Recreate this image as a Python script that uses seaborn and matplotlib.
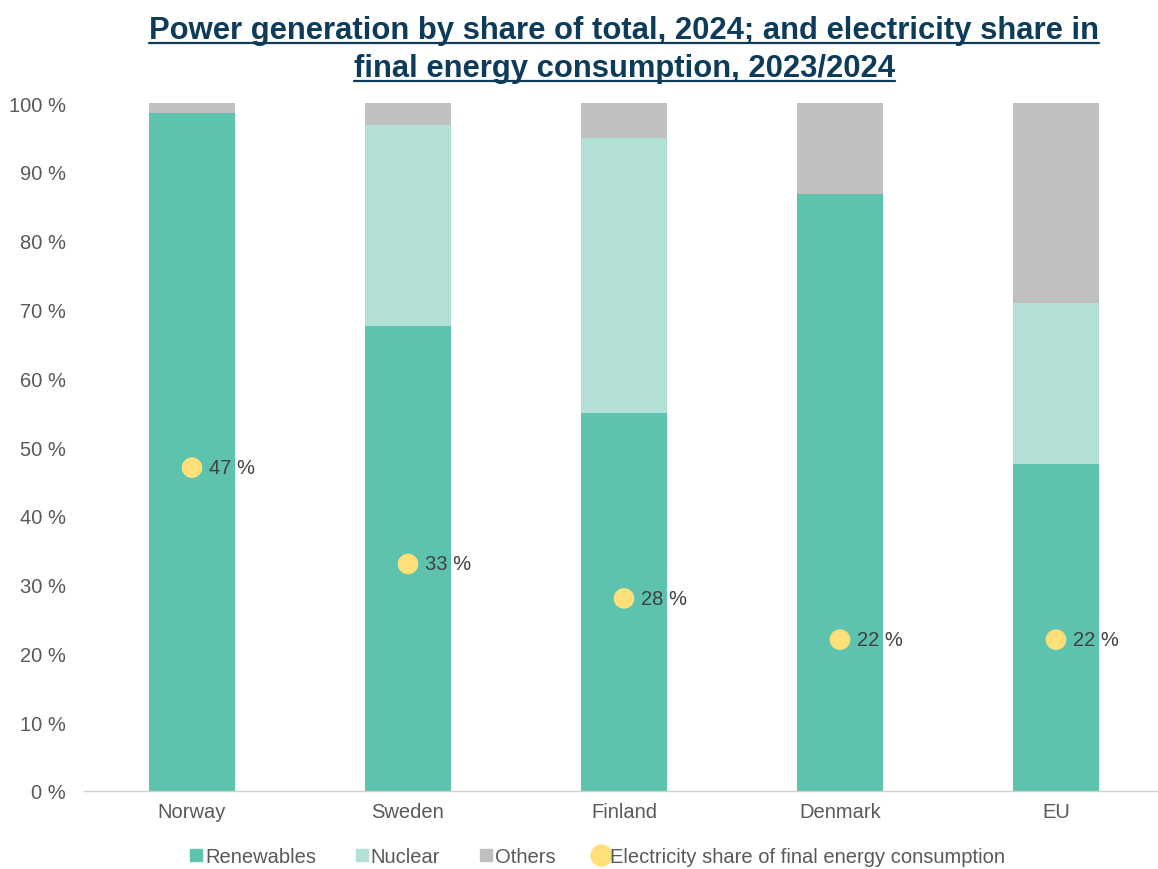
import matplotlib
matplotlib.use("Agg")
import matplotlib.pyplot as plt
from matplotlib.lines import Line2D
import seaborn as sns
import numpy as np
import pandas as pd

countries = ["Norway", "Sweden", "Finland", "Denmark", "EU"]
renewables = [98.5, 67.6, 54.9, 86.8, 47.5]
nuclear = [0.0, 29.2, 40.0, 0.0, 23.4]
others = [1.5, 3.2, 5.1, 13.2, 29.1]
elec_share = [47, 33, 28, 22, 22]
y_ticks = [0, 10, 20, 30, 40, 50, 60, 70, 80, 90, 100]

C_REN = "#5DC3AE"
C_NUC = "#B3E0D6"
C_OTH = "#BFBFBF"
C_DOT = "#FFDF7A"
C_TITLE = "#0D3B5A"
C_TXT = "#595959"

sns.set_theme(style="white")
plt.rcParams["font.family"] = ["Liberation Sans", "DejaVu Sans"]

df = pd.DataFrame({"country": countries, "ren": renewables, "nuc": nuclear,
                   "oth": others, "elec": elec_share})
df["top_nuc"] = df["ren"] + df["nuc"]
df["top_all"] = df["top_nuc"] + df["oth"]

fig = plt.figure(figsize=(11.58, 8.70), dpi=100)
ax = fig.add_axes([84 / 1158, 1 - 792 / 870, 1080 / 1158, 688 / 870])

for col, c in [("top_all", C_OTH), ("top_nuc", C_NUC), ("ren", C_REN)]:
    sns.barplot(data=df, x="country", y=col, color=c, width=0.4,
                saturation=1, ax=ax, order=countries, linewidth=0)
sns.scatterplot(data=df, x="country", y="elec", color=C_DOT, s=220,
                edgecolor="none", ax=ax, zorder=5)
for i, v in enumerate(elec_share):
    ax.annotate(f"{v} %", (i, v), xytext=(12.5, 0), textcoords="offset points",
                va="center", ha="left", fontsize=14.5, color="#404040")

ax.set_ylim(0, 100)
ax.set_xlim(-0.5, 4.5)
ax.set_yticks(y_ticks)
ax.set_yticklabels([f"{t} %" for t in y_ticks])
ax.set_xlabel("")
ax.set_ylabel("")
ax.tick_params(axis="both", length=0, labelsize=14.5, labelcolor=C_TXT)
ax.tick_params(axis="y", pad=13)
ax.tick_params(axis="x", pad=8)
for s in ["top", "right", "left"]:
    ax.spines[s].set_visible(False)
ax.spines["bottom"].set_color("#D0D0D0")
ax.spines["bottom"].set_linewidth(1)
ax.grid(False)

# Title (two lines, underlined)
cx = (84 + 540) / 1158
t1 = fig.text(cx, 1 - 39 / 870, "Power generation by share of total, 2024; and electricity share in",
              ha="center", va="baseline", fontsize=22.3, fontweight="bold",
              color=C_TITLE)
t2 = fig.text(cx, 1 - 77 / 870, "final energy consumption, 2023/2024",
              ha="center", va="baseline", fontsize=22.3, fontweight="bold",
              color=C_TITLE)
fig.canvas.draw()
r = fig.canvas.get_renderer()
for t, yb in [(t1, 39), (t2, 77)]:
    bb = t.get_window_extent(renderer=r)
    x0, x1 = bb.x0 / 1158, bb.x1 / 1158
    yl = 1 - (yb + 5) / 870
    fig.add_artist(Line2D([x0, x1], [yl, yl], color=C_TITLE, lw=1.6,
                          transform=fig.transFigure))

handles = [
    Line2D([], [], marker="s", ls="none", color=C_REN, markersize=8),
    Line2D([], [], marker="s", ls="none", color=C_NUC, markersize=8),
    Line2D([], [], marker="s", ls="none", color=C_OTH, markersize=8),
    Line2D([], [], marker="o", ls="none", color=C_DOT, markersize=15),
]
labels = ["Renewables", "Nuclear", "Others", "Electricity share of final energy consumption"]
leg = fig.legend(handles, labels, loc="center", bbox_to_anchor=(596 / 1158, 1 - 858 / 870),
                 ncol=4, frameon=False, fontsize=14.5, handletextpad=0.0,
                 columnspacing=1.8, handlelength=0.9)
for txt in leg.get_texts():
    txt.set_color(C_TXT)

fig.savefig("out.png", dpi=100)
